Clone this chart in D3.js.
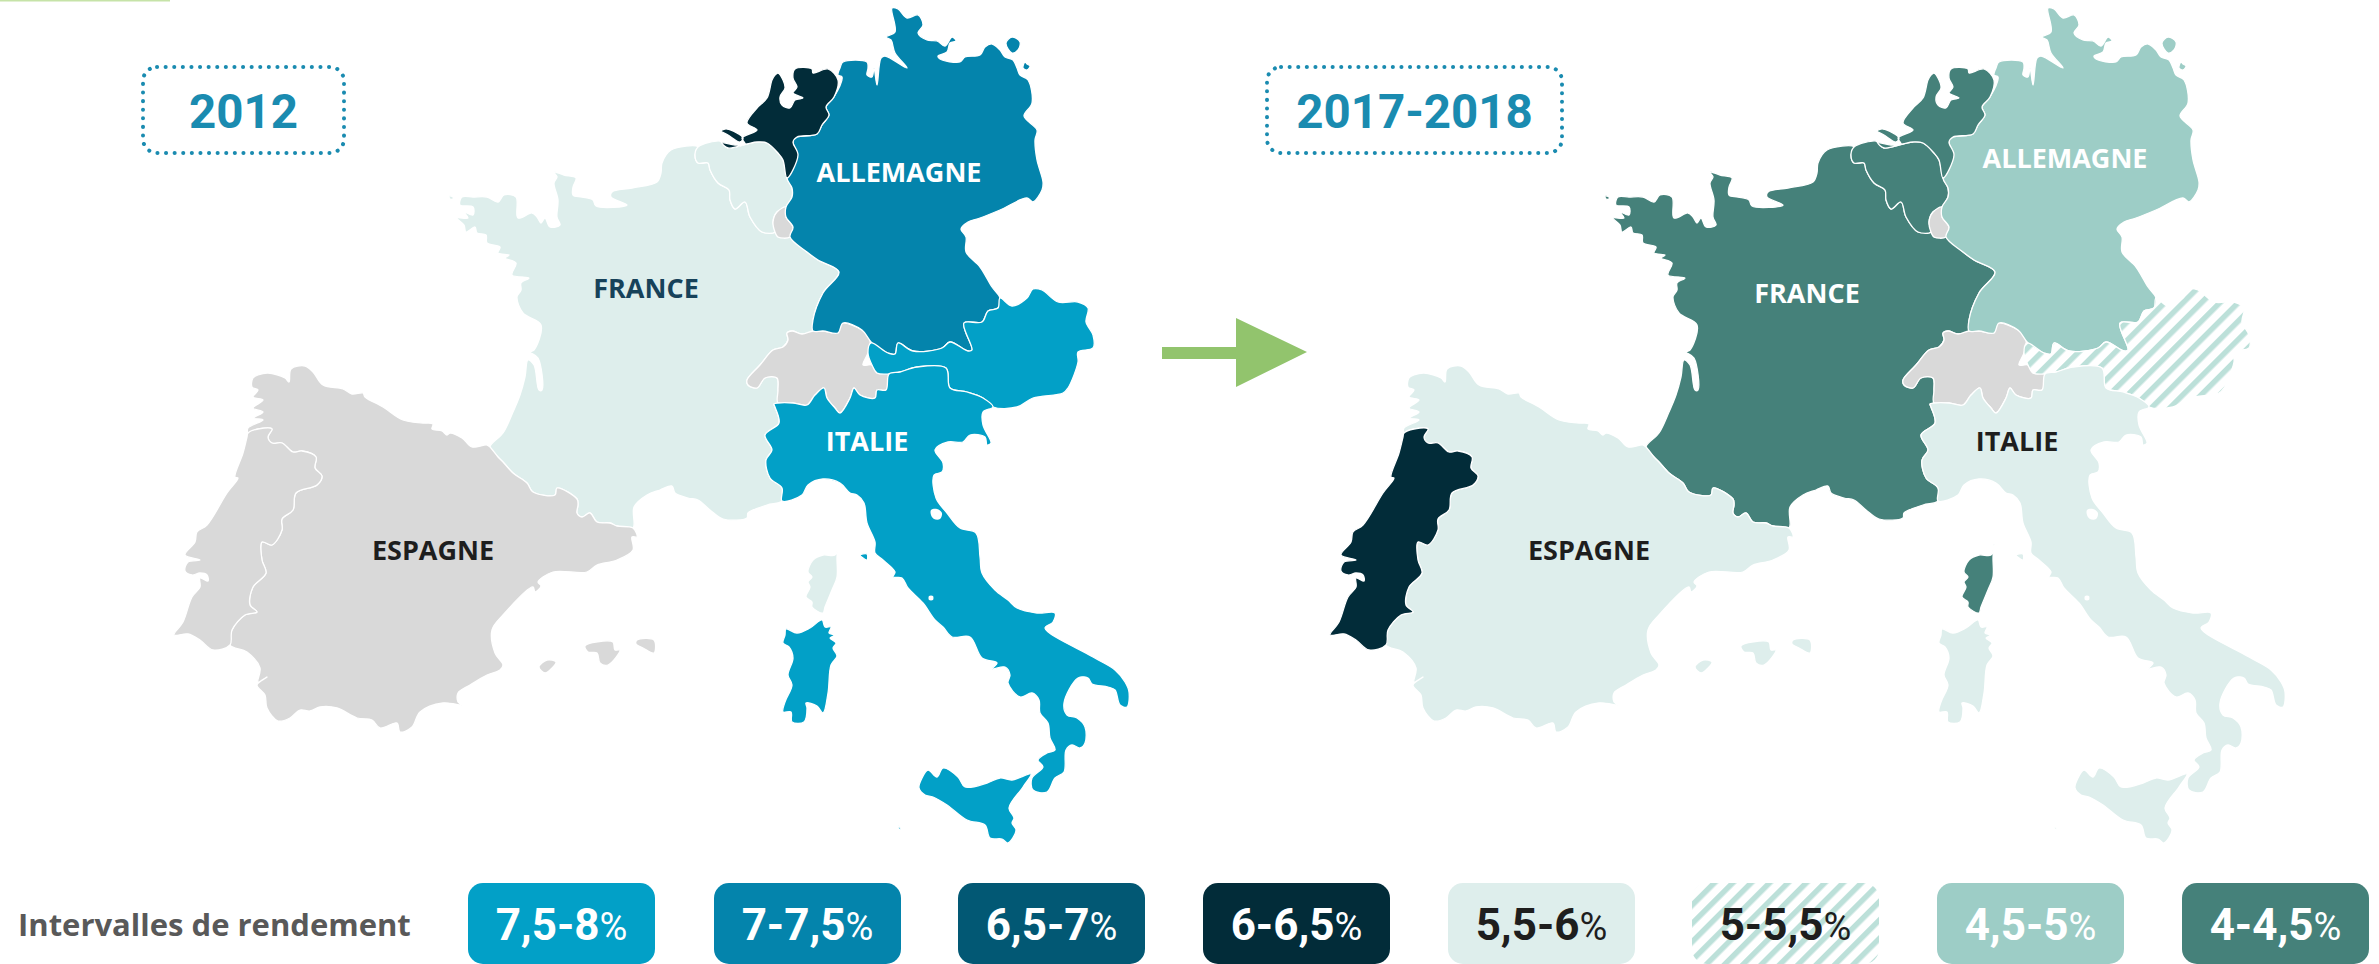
<!DOCTYPE html>
<html>
<head>
<meta charset="utf-8">
<style>
  html, body { margin: 0; padding: 0; background: #fff; overflow: hidden; }
  svg { display: block; }
</style>
<script src="https://cdn.jsdelivr.net/npm/d3@7"></script>
</head>
<body>
<div id="chart"></div>
<script>
// yield intervals, as printed in the legend
var intervals = ["7,5-8", "7-7,5", "6,5-7", "6-6,5", "5,5-6", "5-5,5", "4,5-5", "4-4,5"];
var legendTitle = "Intervalles de rendement";
var periods = ["2012", "2017-2018"];

// interval per country and period, a country left out has no data (grey)
var rates2012 = { Allemagne: "7-7,5", Autriche: "7,5-8", Italie: "7,5-8", France: "5,5-6", Belgique: "5,5-6", Corse: "5,5-6", "Pays-Bas": "6-6,5" };
var rates2017 = { Allemagne: "4,5-5", Autriche: "5-5,5", Italie: "5,5-6", France: "4-4,5", Belgique: "4-4,5", Corse: "4-4,5", "Pays-Bas": "4-4,5", Espagne: "5,5-6", Portugal: "6-6,5" };

// outlines, in map units
var germanyOutline = [[[892,8],[898,9],[907,18],[918,15],[923,25],[918,33],[927,40],[937,41],[945,46],[952,37],[956,41],[950,43],[947,52],[938,56],[940,59],[960,62],[965,57],[980,55],[985,47],[992,44],[1000,50],[1005,57],[1013,60],[1017,68],[1020,75],[1028,80],[1032,103],[1024,116],[1037,130],[1035,140],[1037,160],[1043,182],[1042,190],[1033,202],[1027,198],[1000,210],[980,218],[968,222],[961,229],[966,237],[966,252],[980,267],[992,287],[1000,298],[998,308],[988,311],[982,322],[964,323],[972,350],[968,351],[950,342],[942,348],[913,351],[898,343],[895,354],[888,353],[872,343],[862,330],[843,323],[838,333],[823,331],[813,331],[813,320],[823,293],[839,272],[818,260],[807,252],[790,237],[793,227],[786,217],[786,207],[792,197],[792,188],[787,178],[797,155],[793,142],[797,137],[817,134],[822,125],[829,115],[826,107],[834,97],[842,77],[838,75],[840,68],[843,62],[867,62],[868,68],[867,75],[872,77],[874,68],[877,85],[881,58],[885,56],[907,68],[895,53],[891,40],[886,37],[895,32]],
  [[1006,43],[1012,37],[1020,42],[1018,50],[1012,53]],
  [[1025,62],[1027,64],[1030,66],[1027,70],[1023,68]]];

var netherlandsOutline = [[[775,75],[778,73],[783,80],[785,88],[780,97],[782,105],[790,108],[795,100],[803,98],[793,93],[797,87],[793,78],[795,69],[812,69],[813,73],[828,69],[838,80],[834,97],[826,107],[829,115],[822,125],[817,134],[797,137],[793,142],[798,155],[787,178],[783,160],[778,153],[767,143],[757,142],[747,144],[728,148],[722,143],[735,145],[745,144],[742,138],[757,130],[747,123],[757,108],[767,98],[772,80]],
  [[721,131],[727,129],[743,138],[740,142],[728,135]]];

var belgiumOutline = [[[698,147],[720,141],[722,143],[728,148],[747,144],[757,142],[767,143],[778,153],[783,160],[787,178],[792,188],[792,197],[786,207],[777,212],[773,222],[775,232],[762,232],[750,217],[745,202],[735,209],[730,200],[729,190],[718,183],[710,170],[708,163],[698,163],[695,155]]];

var luxembourgOutline = [[[786,207],[786,217],[793,227],[790,237],[778,237],[775,232],[773,222],[777,212]]];

var switzerlandOutline = [[[787,333],[792,331],[802,334],[813,331],[823,331],[838,333],[840,325],[843,323],[862,330],[870,340],[868,353],[863,365],[872,365],[877,373],[889,374],[886,390],[877,390],[875,398],[860,395],[854,388],[850,398],[840,413],[835,408],[827,398],[824,388],[815,395],[807,405],[793,403],[778,403],[778,390],[777,378],[765,378],[757,388],[748,385],[747,380],[760,365],[773,350],[783,347],[788,340]]];

var austriaOutline = [[[871,343],[888,353],[895,354],[898,343],[913,351],[942,348],[950,342],[968,351],[972,350],[964,323],[982,322],[988,311],[998,308],[1000,298],[1012,306],[1027,298],[1033,289],[1042,290],[1058,302],[1078,302],[1088,308],[1086,322],[1093,335],[1093,348],[1078,352],[1078,362],[1068,388],[1063,393],[1033,398],[1017,407],[993,407],[983,398],[967,392],[950,388],[946,368],[917,367],[900,372],[889,374],[877,373],[872,365],[868,353]]];

var italyOutline = [[[774,404],[778,403],[793,403],[807,405],[815,395],[824,388],[827,398],[835,408],[840,413],[850,398],[854,388],[860,395],[875,398],[877,390],[886,390],[889,374],[900,372],[917,367],[946,368],[950,388],[967,392],[983,398],[993,407],[983,412],[983,425],[991,443],[987,445],[985,437],[970,435],[963,442],[948,442],[935,450],[943,463],[942,472],[934,475],[936,498],[947,513],[960,528],[976,533],[980,557],[982,573],[995,590],[1008,600],[1017,608],[1037,613],[1055,613],[1053,622],[1045,628],[1093,657],[1115,670],[1125,682],[1129,692],[1127,707],[1120,705],[1115,690],[1108,687],[1092,684],[1088,678],[1078,678],[1064,703],[1067,715],[1077,718],[1085,727],[1085,743],[1080,748],[1072,745],[1066,750],[1064,772],[1055,778],[1047,792],[1033,790],[1032,778],[1043,767],[1038,760],[1047,753],[1055,750],[1050,738],[1048,723],[1040,713],[1039,700],[1032,693],[1020,697],[1008,683],[1010,675],[1005,667],[992,669],[997,663],[982,658],[970,637],[952,637],[943,627],[935,620],[923,603],[908,588],[902,578],[893,577],[895,572],[883,560],[875,553],[875,542],[867,523],[864,503],[857,495],[850,493],[840,483],[823,479],[808,485],[802,495],[782,501],[782,488],[770,478],[766,460],[772,450],[765,435],[779,423],[775,407]],
  // sardinia
  [[786,629],[797,633],[810,628],[822,620],[825,627],[831,627],[829,633],[835,635],[830,638],[836,643],[833,648],[837,656],[831,665],[828,693],[823,713],[817,706],[806,703],[807,708],[804,722],[792,722],[791,712],[783,712],[785,702],[792,685],[788,675],[793,658],[789,647],[783,643],[785,635]],
  // sicily
  [[928,770],[937,777],[943,768],[958,777],[965,787],[987,783],[1000,778],[1012,780],[1031,774],[1023,787],[1009,808],[1014,818],[1012,823],[1016,830],[1008,843],[1002,839],[990,838],[985,825],[967,820],[947,805],[933,797],[925,795],[919,788],[922,778]],
  // elba, pantelleria
  [[860,555],[867,554],[867,560]],
  [[897,825],[901,829],[900,830]]];

var corsicaOutline = [[[838,544],[835,555],[823,555],[813,560],[808,572],[812,577],[808,582],[810,587],[806,597],[812,602],[812,607],[823,613],[825,607],[832,590],[837,577],[837,557]]];

var franceOutline = [[[698,147],[671,150],[662,163],[661,173],[657,182],[632,188],[612,192],[611,197],[627,205],[596,206],[593,200],[582,197],[573,195],[573,187],[576,178],[564,175],[554,172],[557,177],[554,183],[558,200],[557,217],[560,225],[550,227],[545,218],[541,223],[537,217],[532,213],[518,218],[516,197],[504,195],[498,202],[487,197],[473,197],[462,197],[460,205],[473,207],[473,215],[464,212],[468,218],[457,218],[464,225],[466,232],[475,227],[477,233],[486,235],[487,243],[500,247],[498,253],[509,255],[505,258],[516,263],[512,275],[529,278],[521,283],[521,290],[517,297],[523,313],[541,325],[534,350],[530,352],[538,358],[542,390],[539,390],[534,365],[528,360],[525,377],[520,395],[513,412],[503,433],[490,447],[498,457],[503,462],[513,473],[527,483],[533,492],[555,495],[557,488],[577,499],[578,505],[577,513],[582,517],[590,513],[597,522],[610,523],[617,526],[633,528],[634,507],[647,495],[660,490],[672,486],[675,493],[688,498],[698,500],[710,510],[723,519],[747,518],[748,513],[767,505],[782,501],[782,488],[770,478],[766,460],[772,450],[765,435],[779,423],[775,407],[774,404],[778,403],[778,390],[777,378],[765,378],[757,388],[748,385],[747,380],[760,365],[773,350],[783,347],[788,340],[787,333],[792,331],[802,334],[813,331],[813,320],[823,293],[839,272],[818,260],[807,252],[790,237],[778,237],[775,232],[762,232],[750,217],[745,202],[735,209],[730,200],[729,190],[718,183],[710,170],[708,163],[698,163],[695,155]],
  [[449,196],[453,197],[453,199],[450,199]]];

var spainOutline = [[[248,433],[248,428],[263,420],[254,418],[263,412],[253,408],[263,400],[253,397],[258,390],[252,387],[253,378],[258,375],[268,373],[285,378],[289,382],[291,369],[305,366],[313,372],[323,385],[343,389],[352,394],[363,393],[365,397],[383,407],[403,420],[423,423],[433,424],[432,429],[442,431],[447,435],[450,433],[462,438],[472,447],[487,445],[490,447],[498,457],[503,462],[513,473],[527,483],[533,492],[555,495],[557,488],[577,499],[578,505],[577,513],[582,517],[590,513],[597,522],[610,523],[617,526],[633,528],[637,537],[632,537],[633,550],[617,560],[597,565],[587,572],[553,572],[538,582],[541,586],[535,592],[533,587],[503,615],[492,630],[495,653],[503,665],[500,670],[487,675],[470,685],[458,693],[458,702],[462,705],[443,703],[420,712],[412,727],[400,732],[397,723],[380,728],[372,720],[357,718],[337,708],[320,707],[310,711],[300,710],[290,718],[278,721],[267,708],[265,695],[257,685],[267,677],[258,682],[260,668],[247,652],[230,645],[232,630],[245,615],[257,612],[250,605],[253,587],[266,573],[262,560],[262,542],[272,545],[282,530],[282,519],[293,510],[296,493],[317,485],[322,476],[315,468],[316,457],[302,451],[293,452],[282,443],[272,443],[268,437],[272,429],[258,429]],
  // balearic islands
  [[585,646],[603,641],[613,642],[615,650],[620,650],[608,665],[600,663],[597,653],[588,652]],
  [[637,640],[654,640],[654,653],[643,648],[636,644]],
  [[539,667],[547,660],[556,662],[550,670],[545,673]],
  [[547,682],[551,685],[548,683]]];

var portugalOutline = [[[248,433],[258,429],[272,429],[268,437],[272,443],[282,443],[293,452],[302,451],[316,457],[315,468],[322,476],[317,485],[296,493],[293,510],[282,519],[282,530],[272,545],[262,542],[262,560],[266,573],[253,587],[250,605],[257,612],[245,615],[232,630],[230,645],[213,650],[200,640],[188,634],[174,635],[183,622],[192,597],[200,587],[200,578],[208,581],[207,575],[200,573],[192,575],[185,571],[188,562],[200,560],[185,555],[195,542],[197,532],[207,525],[227,493],[238,478],[235,477],[243,453],[247,437]]];

// trasimeno and bolsena
var lakes = [[[931,510],[937,509],[942,513],[940,519],[934,519],[931,515]], [[929,596],[933,596],[933,600],[929,600]]];

var countryNames = ["France", "Belgique", "Luxembourg", "Suisse", "Espagne", "Portugal", "Allemagne", "Pays-Bas", "Autriche", "Italie", "Corse"];
var countryOutlines = [franceOutline, belgiumOutline, luxembourgOutline, switzerlandOutline, spainOutline, portugalOutline, germanyOutline, netherlandsOutline, austriaOutline, italyOutline, corsicaOutline];
var labelNames = ["ESPAGNE", "FRANCE", "ALLEMAGNE", "ITALIE"];

var width = 2379, height = 964;

var svg = d3.select("#chart").append("svg")
  .attr("width", width)
  .attr("height", height);

// hatch for the 5-5,5 class
var defs = svg.append("defs");
defs.append("pattern")
  .attr("id", "hatch")
  .attr("patternUnits", "userSpaceOnUse")
  .attr("width", 13)
  .attr("height", 13)
  .attr("patternTransform", "rotate(45)")
  .append("rect")
  .attr("width", 5.5)
  .attr("height", 13)
  .attr("fill", "#bce0d9");

var color = d3.scaleOrdinal()
  .domain(intervals)
  .range(["#02a0c7", "#0484ac", "#025874", "#022c39", "#deeeec", "url(#hatch)", "#9dcdc6", "#45817a"])
  .unknown("#d9d9d9");

var textColor = d3.scaleOrdinal()
  .domain(intervals)
  .range(["#fff", "#fff", "#fff", "#fff", "#1e1e1e", "#1e1e1e", "#fff", "#fff"]);

// thin green rule left at the very top of the slide
svg.append("rect").attr("x", 0).attr("y", 0).attr("width", 170).attr("height", 1.5).attr("fill", "#c6e3a8");

// draw one map, the second is the same outlines moved right
function drawMap(offset, rates, labelColors, labelAt) {
  var projection = d3.geoIdentity().translate([offset, 0]);
  // rounded rings, the coasts in the picture have no straight pieces
  var ring = d3.line()
    .x(function (p) { return projection(p)[0]; })
    .y(function (p) { return projection(p)[1]; })
    .curve(d3.curveCatmullRomClosed.alpha(0.5));
  var outline = function (rings) { return rings.map(ring).join(""); };
  var g = svg.append("g");

  g.selectAll("path.country")
    .data(countryNames)
    .join("path")
    .attr("class", "country")
    .attr("d", function (d, i) { return outline(countryOutlines[i]); })
    .attr("fill", function (d) { return color(rates[d]); })
    .attr("stroke", "#fff")
    .attr("stroke-width", 1.3)
    .attr("stroke-linejoin", "round");

  g.append("path")
    .attr("d", outline(lakes))
    .attr("fill", "#fff");

  g.selectAll("text")
    .data(labelNames)
    .join("text")
    .attr("x", function (d) { return labelAt[d][0]; })
    .attr("y", function (d) { return labelAt[d][1]; })
    .attr("text-anchor", "middle")
    .attr("font-family", "'Open Sans'")
    .attr("font-weight", 700)
    .attr("font-size", 27)
    .attr("fill", function (d) { return labelColors[d]; })
    .text(function (d) { return d; });
}

drawMap(0, rates2012,
  { ESPAGNE: "#1e1e1e", FRANCE: "#17425a", ALLEMAGNE: "#fff", ITALIE: "#fff" },
  { ESPAGNE: [433, 560], FRANCE: [646, 298], ALLEMAGNE: [899, 182], ITALIE: [867, 451] });
drawMap(1156, rates2017,
  { ESPAGNE: "#1e1e1e", FRANCE: "#fff", ALLEMAGNE: "#fff", ITALIE: "#1e1e1e" },
  { ESPAGNE: [1589, 560], FRANCE: [1807, 303], ALLEMAGNE: [2065, 168], ITALIE: [2017, 451] });

// period boxes
var boxes = [[143, 344], [1267, 1562]];
boxes.forEach(function (b, i) {
  svg.append("rect")
    .attr("x", b[0])
    .attr("y", 67)
    .attr("width", b[1] - b[0])
    .attr("height", 86)
    .attr("rx", 14)
    .attr("fill", "none")
    .attr("stroke", "#1a8bb0")
    .attr("stroke-width", 4)
    .attr("stroke-linecap", "round")
    .attr("stroke-dasharray", "0.1 8.5");
  svg.append("text")
    .attr("x", (b[0] + b[1]) / 2)
    .attr("y", 128)
    .attr("text-anchor", "middle")
    .attr("font-family", "Roboto")
    .attr("font-weight", 700)
    .attr("font-size", 47.5)
    .attr("fill", "#1a8bb0")
    .text(periods[i]);
});

// arrow between the maps
svg.append("path")
  .attr("d", d3.line()([[1162, 347], [1236, 347], [1236, 318], [1307, 352], [1236, 387], [1236, 359], [1162, 359]]) + "Z")
  .attr("fill", "#92c46d");

// legend
svg.append("text")
  .attr("x", 18)
  .attr("y", 936)
  .attr("font-family", "'Open Sans'")
  .attr("font-weight", 700)
  .attr("font-size", 31)
  .attr("fill", "#595959")
  .text(legendTitle);

var legendStarts = [468, 714, 958, 1203, 1448, 1692, 1937, 2182];

var legend = svg.selectAll("g.legend")
  .data(intervals)
  .join("g")
  .attr("class", "legend")
  .attr("transform", function (d, i) { return "translate(" + legendStarts[i] + ",883)"; });

legend.append("rect")
  .attr("width", 187)
  .attr("height", 81)
  .attr("rx", 15)
  .attr("fill", function (d) { return color(d); });

var legendText = legend.append("text")
  .attr("x", 93.5)
  .attr("y", 57)
  .attr("text-anchor", "middle")
  .attr("font-family", "Roboto")
  .attr("font-size", 44)
  .attr("fill", function (d) { return textColor(d); });

legendText.append("tspan").attr("font-weight", 700).text(function (d) { return d; });
legendText.append("tspan").attr("font-weight", 400).attr("font-size", 38).text("%");
</script>
</body>
</html>
